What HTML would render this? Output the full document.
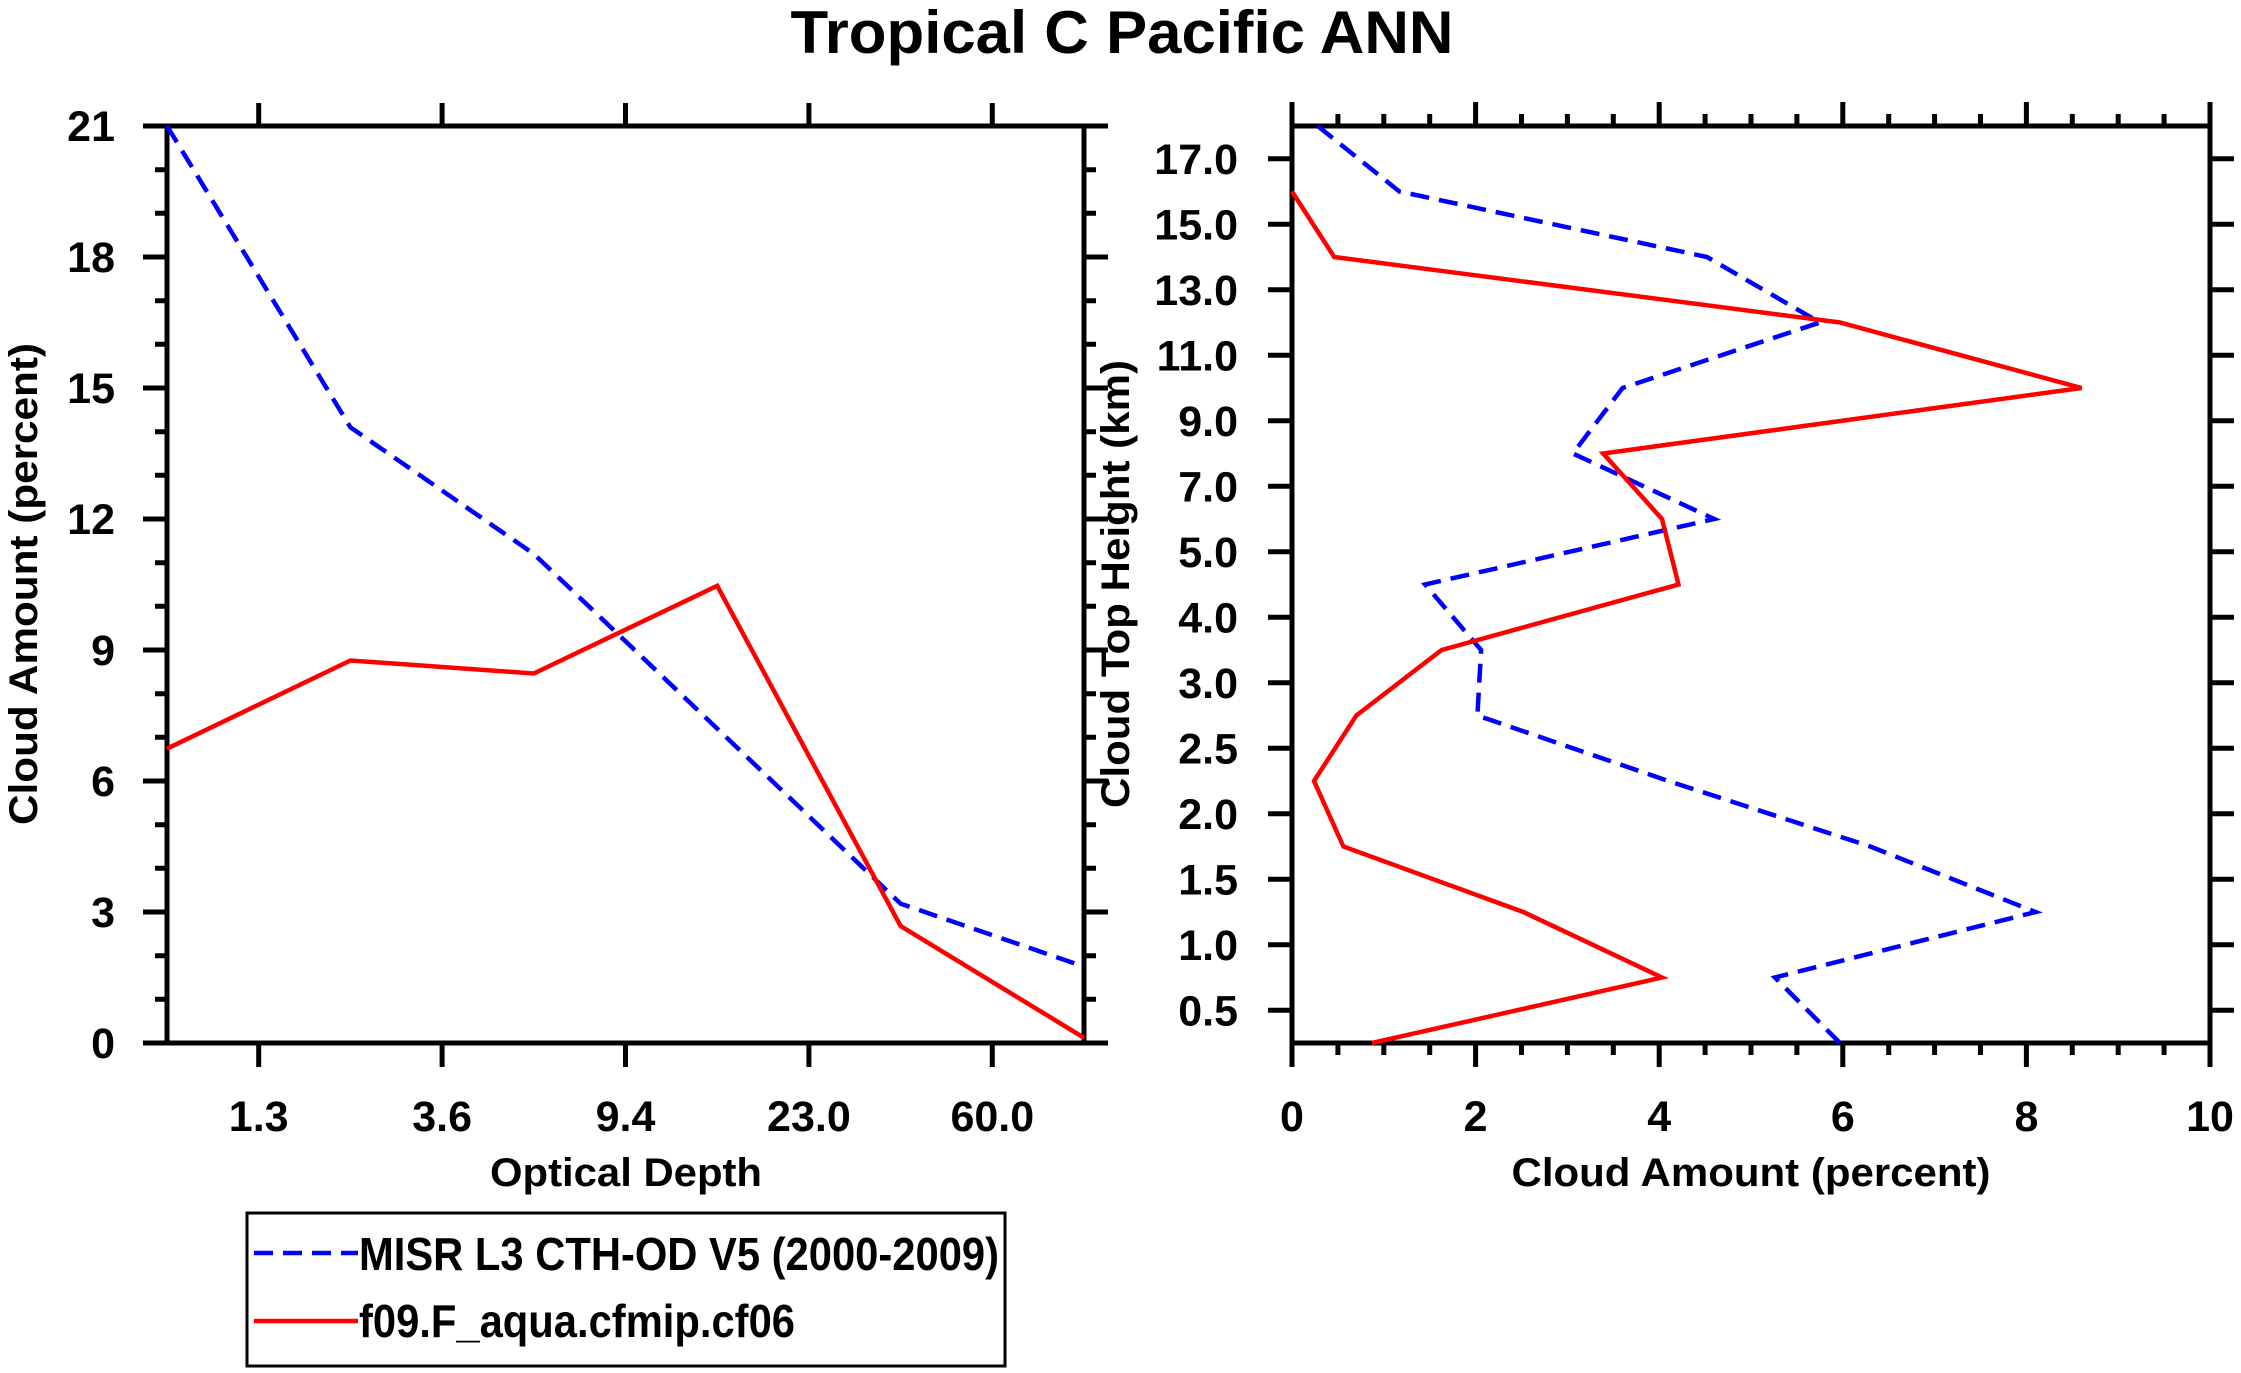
<!DOCTYPE html>
<html><head><meta charset="utf-8"><style>
html,body{margin:0;padding:0;background:#fff;}
svg{display:block;}
text{font-family:"Liberation Sans",Arial,sans-serif;font-weight:bold;fill:#000;}
</style></head><body>
<svg width="2241" height="1373" viewBox="0 0 2241 1373" xmlns="http://www.w3.org/2000/svg">
<text x="1122" y="53" font-size="60" text-anchor="middle" textLength="663" lengthAdjust="spacingAndGlyphs">Tropical C Pacific ANN</text>

<!-- LEFT PLOT -->
<g stroke="#000" stroke-width="5" fill="none">
<rect x="167" y="126" width="917" height="917"/>
<path d="M143 126H167M143 257H167M143 388H167M143 519H167M143 650H167M143 781H167M143 912H167M143 1043H167"/>
<path d="M155 169.7H167M155 213.3H167M155 300.7H167M155 344.3H167M155 431.7H167M155 475.3H167M155 562.7H167M155 606.3H167M155 693.7H167M155 737.3H167M155 824.7H167M155 868.3H167M155 955.7H167M155 999.3H167"/>
<path d="M1084 126H1108M1084 257H1108M1084 388H1108M1084 519H1108M1084 650H1108M1084 781H1108M1084 912H1108M1084 1043H1108"/>
<path d="M1084 169.7H1096M1084 213.3H1096M1084 300.7H1096M1084 344.3H1096M1084 431.7H1096M1084 475.3H1096M1084 562.7H1096M1084 606.3H1096M1084 693.7H1096M1084 737.3H1096M1084 824.7H1096M1084 868.3H1096M1084 955.7H1096M1084 999.3H1096"/>
<path d="M258.7 126V103M442.1 126V103M625.5 126V103M808.9 126V103M992.3 126V103"/>
<path d="M258.7 1043V1067M442.1 1043V1067M625.5 1043V1067M808.9 1043V1067M992.3 1043V1067"/>
</g>
<g font-size="43" text-anchor="end">
<text x="115" y="141">21</text><text x="115" y="272">18</text><text x="115" y="403">15</text><text x="115" y="534">12</text><text x="115" y="665">9</text><text x="115" y="796">6</text><text x="115" y="927">3</text><text x="115" y="1058">0</text>
</g>
<g font-size="43" text-anchor="middle">
<text x="258.7" y="1131">1.3</text><text x="442.1" y="1131">3.6</text><text x="625.5" y="1131">9.4</text><text x="808.9" y="1131">23.0</text><text x="992.3" y="1131">60.0</text>
</g>
<text x="626" y="1186" font-size="40" text-anchor="middle" textLength="272" lengthAdjust="spacingAndGlyphs">Optical Depth</text>
<text transform="translate(37,584) rotate(-90)" font-size="40" text-anchor="middle" textLength="482" lengthAdjust="spacingAndGlyphs">Cloud Amount (percent)</text>
<polyline fill="none" stroke="#00f" stroke-width="4.5" stroke-dasharray="19,10" points="167,126 350.4,427.3 533.8,553.9 717.2,728.6 900.6,903.7 1084,966.6"/>
<polyline fill="none" stroke="#f00" stroke-width="4.5" points="167,748.7 350.4,660.5 533.8,673.5 717.2,585.8 900.6,926 1084,1037.8"/>

<!-- RIGHT PLOT -->
<g stroke="#000" stroke-width="5" fill="none">
<rect x="1292" y="126" width="918" height="917"/>
<path d="M1268 1010.3H1292M1268 944.8H1292M1268 879.3H1292M1268 813.8H1292M1268 748.3H1292M1268 682.8H1292M1268 617.3H1292M1268 551.8H1292M1268 486.3H1292M1268 420.8H1292M1268 355.3H1292M1268 289.8H1292M1268 224.3H1292M1268 158.8H1292"/>
<path d="M2210 1010.3H2234M2210 944.8H2234M2210 879.3H2234M2210 813.8H2234M2210 748.3H2234M2210 682.8H2234M2210 617.3H2234M2210 551.8H2234M2210 486.3H2234M2210 420.8H2234M2210 355.3H2234M2210 289.8H2234M2210 224.3H2234M2210 158.8H2234"/>
<path d="M1292 1043V1067M1475.6 1043V1067M1659.2 1043V1067M1842.8 1043V1067M2026.4 1043V1067M2210 1043V1067"/>
<path d="M1337.9 1043V1055M1383.8 1043V1055M1429.7 1043V1055M1521.5 1043V1055M1567.4 1043V1055M1613.3 1043V1055M1705.1 1043V1055M1751 1043V1055M1796.9 1043V1055M1888.7 1043V1055M1934.6 1043V1055M1980.5 1043V1055M2072.3 1043V1055M2118.2 1043V1055M2164.1 1043V1055"/>
<path d="M1292 126V102M1475.6 126V102M1659.2 126V102M1842.8 126V102M2026.4 126V102M2210 126V102"/>
<path d="M1337.9 126V114M1383.8 126V114M1429.7 126V114M1521.5 126V114M1567.4 126V114M1613.3 126V114M1705.1 126V114M1751 126V114M1796.9 126V114M1888.7 126V114M1934.6 126V114M1980.5 126V114M2072.3 126V114M2118.2 126V114M2164.1 126V114"/>
</g>
<g font-size="43" text-anchor="end">
<text x="1238" y="1025.3">0.5</text><text x="1238" y="959.8">1.0</text><text x="1238" y="894.3">1.5</text><text x="1238" y="828.8">2.0</text><text x="1238" y="763.3">2.5</text><text x="1238" y="697.8">3.0</text><text x="1238" y="632.3">4.0</text><text x="1238" y="566.8">5.0</text><text x="1238" y="501.3">7.0</text><text x="1238" y="435.8">9.0</text><text x="1238" y="370.3">11.0</text><text x="1238" y="304.8">13.0</text><text x="1238" y="239.3">15.0</text><text x="1238" y="173.8">17.0</text>
</g>
<g font-size="43" text-anchor="middle">
<text x="1292" y="1131">0</text><text x="1475.6" y="1131">2</text><text x="1659.2" y="1131">4</text><text x="1842.8" y="1131">6</text><text x="2026.4" y="1131">8</text><text x="2210" y="1131">10</text>
</g>
<text x="1751" y="1186" font-size="40" text-anchor="middle" textLength="479" lengthAdjust="spacingAndGlyphs">Cloud Amount (percent)</text>
<text transform="translate(1129,584) rotate(-90)" font-size="40" text-anchor="middle" textLength="448" lengthAdjust="spacingAndGlyphs">Cloud Top Height (km)</text>
<polyline fill="none" stroke="#00f" stroke-width="4.5" stroke-dasharray="19,10" points="1840,1043 1774.9,977.5 2035.6,912 1870.3,846.5 1668.4,781 1477.4,715.5 1481.1,650 1425.1,584.5 1714.3,519 1572.9,453.5 1622.5,388 1819.9,322.5 1707,257 1399.4,191.5 1317.7,126"/>
<polyline fill="none" stroke="#f00" stroke-width="4.5" points="1371.9,1043 1662,977.5 1523.3,912 1343.4,846.5 1314,781 1356.3,715.5 1441.6,650 1678.5,584.5 1662,519 1603.2,453.5 2081.5,388 1840,322.5 1334.2,257 1292,191.5"/>

<!-- LEGEND -->
<rect x="247" y="1213" width="758" height="153" fill="none" stroke="#000" stroke-width="3"/>
<line x1="254" y1="1253" x2="358" y2="1253" stroke="#00f" stroke-width="4.5" stroke-dasharray="19,10"/>
<line x1="254" y1="1321" x2="358" y2="1321" stroke="#f00" stroke-width="4.5"/>
<text x="359" y="1270" font-size="46" textLength="640" lengthAdjust="spacingAndGlyphs">MISR L3 CTH-OD V5 (2000-2009)</text>
<text x="359" y="1337" font-size="46" textLength="436" lengthAdjust="spacingAndGlyphs">f09.F_aqua.cfmip.cf06</text>
</svg>
</body></html>
